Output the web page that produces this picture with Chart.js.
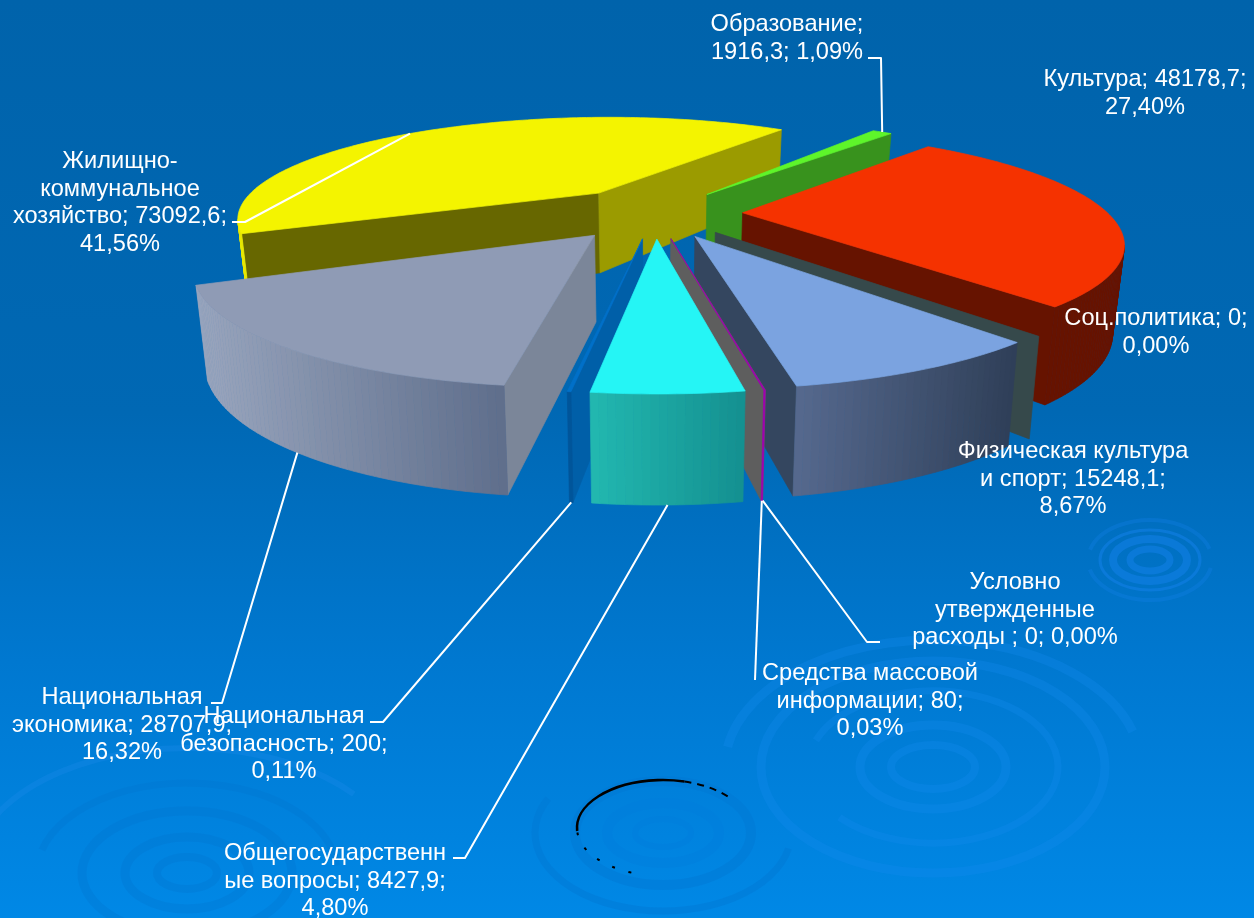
<!DOCTYPE html>
<html>
<head>
<meta charset="utf-8">
<title>Расходы бюджета</title>
<script src="https://cdn.jsdelivr.net/npm/chart.js@4"></script>
<style>
    html, body { margin: 0; padding: 0; }
    #stage {
        position: relative; width: 1254px; height: 918px; overflow: hidden;
        background: linear-gradient(to bottom, #0063ab 0%, #0068b4 45%, #0078d0 72%, #0088e6 100%);
    }
    #pie { position: absolute; left: 0; top: 0; }
    .lbl {
        position: absolute; transform: translateX(-50%); white-space: nowrap; text-align: center;
        color: #fff; font: 23.6px/27.4px "Liberation Sans", Arial, sans-serif;
    }
</style>
</head>
<body>
<div id="stage"><canvas id="pie" width="1254" height="918"></canvas></div>
<script>
(function () {
    'use strict';

    // Data, clockwise from the top of the pie
    var categories = ['Образование', 'Культура', 'Соц.политика', 'Физическая культура и спорт',
        'Условно утвержденные расходы', 'Средства массовой информации', 'Общегосударственные вопросы',
        'Национальная безопасность', 'Национальная экономика', 'Жилищно-коммунальное хозяйство'];
    var values = [1916.3, 48178.7, 0, 15248.1, 0, 80, 8427.9, 200, 28707.9, 73092.6];
    var labelLines = [
        ['Образование;', '1916,3; 1,09%'],
        ['Культура; 48178,7;', '27,40%'],
        ['Соц.политика; 0;', '0,00%'],
        ['Физическая культура', 'и спорт; 15248,1;', '8,67%'],
        ['Условно', 'утвержденные', 'расходы ; 0; 0,00%'],
        ['Средства массовой', 'информации; 80;', '0,03%'],
        ['Общегосударственн', 'ые вопросы; 8427,9;', '4,80%'],
        ['Национальная', 'безопасность; 200;', '0,11%'],
        ['Национальная', 'экономика; 28707,9;', '16,32%'],
        ['Жилищно-', 'коммунальное', 'хозяйство; 73092,6;', '41,56%']
    ];

    // Slice styles
    var topColors = ['#5ef52a', '#f53200', '#36494b', '#7ba3e0', '#5e5e5e', '#a000b0', '#25f5f5', '#0070c8', '#8f9bb5', '#f4f400'];
    var cutColors = ['#38921d', '#661300', '#36494b', '#34465f', '#5e5e5e', '#5e5e5e', '#149090', '#005fa8', '#7b8699', '#676700'];
    var cutColorsAlt = ['#38921d', '#661300', '#36494b', '#34465f', '#5e5e5e', '#5e5e5e', '#149090', '#005fa8', '#7b8699', '#9b9b00'];
    var rimLeft = ['#38921d', '#661300', '#36494b', '#56698e', '#5e5e5e', '#a000b0', '#22b8b0', '#00559a', '#99a5bd', '#e8e800'];
    var rimRight = ['#38921d', '#661300', '#36494b', '#2f3f58', '#5e5e5e', '#a000b0', '#149090', '#00559a', '#5f6e8b', '#e8e800'];
    var explode = [290, 290, 290, 290, 290, 290, 290, 290, 314, 314];

    // Label centre x and first line centre y, leader elbow and tail
    var labelPos = [[787, 24], [1145, 79], [1156, 318], [1073, 451], [1015, 582], [870, 673], [335, 853], [284, 716], [122, 697], [120, 161]];
    var leaders = [
        { i: 0, z: 0, at: 0.5, via: [[881, 58], [868, 58]] },
        { i: 4, z: 1, at: 0.5, via: [[867, 642], [880, 642]] },
        { i: 5, z: 1, at: 0.5, via: [[755, 680]] },
        { i: 6, z: 1, at: 0.5, via: [[465, 858], [453, 858]] },
        { i: 7, z: 1, at: 0.5, via: [[383, 722], [370, 722]] },
        { i: 8, z: 1, at: 0.5, via: [[222, 703], [211, 703]] },
        { i: 9, z: 0, at: 0.48, via: [[245, 222], [232, 222]] }
    ];

    // Projection of the pie plane onto the screen
    var CX = 655, CY = 213, A = 365, B = 102.5, K = 0.24, K2 = 0.204, H = 83, SHRINK = 0.025;
    var VIEW_Y = -1 / K;

    function project(X, Y, Z) {
        var w = 1 + K * Y;
        return {
            x: CX + A * X / w * (1 - SHRINK * Z),
            y: CY - B * Y / w + Z * H / (1 + K2 * Y)
        };
    }

    function hex(c) {
        return [parseInt(c.substr(1, 2), 16), parseInt(c.substr(3, 2), 16), parseInt(c.substr(5, 2), 16)];
    }
    function mix(a, b, t) {
        var p = hex(a), q = hex(b), o = [];
        for (var i = 0; i < 3; i++) o.push(Math.round(p[i] + (q[i] - p[i]) * t));
        return 'rgb(' + o.join(',') + ')';
    }

    function fillPoly(ctx, pts, color) {
        ctx.beginPath();
        pts.forEach(function (p, i) { if (i) ctx.lineTo(p.x, p.y); else ctx.moveTo(p.x, p.y); });
        ctx.closePath();
        ctx.fillStyle = color;
        ctx.strokeStyle = color;
        ctx.lineWidth = 0.7;
        ctx.fill();
        ctx.stroke();
    }

    // Arc geometry from the chart's own element, in pie units
    function wedge(arc) {
        var r = arc.outerRadius;
        var mid = (arc.startAngle + arc.endAngle) / 2;
        var e = (arc.options.offset || 0) / 4 / r;
        return {
            a0: arc.startAngle, a1: arc.endAngle,
            ox: Math.cos(mid) * e, oy: -Math.sin(mid) * e, mid: mid
        };
    }
    function rimPoint(w, angle, Z) {
        return project(w.ox + Math.cos(angle), w.oy - Math.sin(angle), Z);
    }

    function drawSlice(ctx, arc, i) {
        var w = wedge(arc);
        var tip = project(w.ox, w.oy, 0), tipLow = project(w.ox, w.oy, 1);
        var span = w.a1 - w.a0;
        var n = Math.max(1, Math.ceil(span / (Math.PI / 180)));
        var vx = -w.ox, vy = VIEW_Y - w.oy;

        // cut walls, start and end of the slice
        var nS = [Math.sin(w.a0), Math.cos(w.a0)];          // outward normal, start side
        var nE = [-Math.sin(w.a1), -Math.cos(w.a1)];        // outward normal, end side
        if (nS[0] * vx + nS[1] * vy > 0) {
            fillPoly(ctx, [tip, rimPoint(w, w.a0, 0), rimPoint(w, w.a0, 1), tipLow], cutColors[i]);
        }
        if (nE[0] * vx + nE[1] * vy > 0) {
            fillPoly(ctx, [tip, rimPoint(w, w.a1, 0), rimPoint(w, w.a1, 1), tipLow], cutColorsAlt[i]);
        }

        // rim, shaded left to right
        if (span > 0) {
            var minX = Infinity, maxX = -Infinity, k, p;
            for (k = 0; k <= n; k++) {
                p = rimPoint(w, w.a0 + span * k / n, 0);
                minX = Math.min(minX, p.x);
                maxX = Math.max(maxX, p.x);
            }
            for (k = 0; k < n; k++) {
                var b0 = w.a0 + span * k / n, b1 = w.a0 + span * (k + 1) / n, bm = (b0 + b1) / 2;
                var px = w.ox + Math.cos(bm), py = w.oy - Math.sin(bm);
                if (Math.cos(bm) * (0 - px) + (-Math.sin(bm)) * (VIEW_Y - py) <= 0) continue;
                var q0 = rimPoint(w, b0, 0), q1 = rimPoint(w, b1, 0);
                var t = maxX > minX ? ((q0.x + q1.x) / 2 - minX) / (maxX - minX) : 0;
                fillPoly(ctx, [q0, q1, rimPoint(w, b1, 1), rimPoint(w, b0, 1)], mix(rimLeft[i], rimRight[i], t));
            }

            // top face
            var top = [tip];
            for (k = 0; k <= n; k++) top.push(rimPoint(w, w.a0 + span * k / n, 0));
            fillPoly(ctx, top, arc.options.backgroundColor);
        }
    }

    function ripple(ctx, cx, cy, rings, color) {
        ctx.strokeStyle = color;
        rings.forEach(function (r) {
            ctx.lineWidth = r[2];
            ctx.beginPath();
            ctx.ellipse(cx, cy, r[0], r[1], 0, r[3] || 0, r[4] || Math.PI * 2);
            ctx.stroke();
        });
    }

    // Water rings of the slide background
    var backdrop = {
        id: 'backdrop',
        beforeDatasetsDraw: function (chart) {
            var ctx = chart.ctx;
            ctx.save();
            ripple(ctx, 1150, 560, [[20, 11, 7], [37, 21, 8], [50, 30, 3]], 'rgba(20,130,235,.5)');
            ripple(ctx, 1150, 560, [[62, 40, 4, 3.4, 6.0], [62, 40, 4, 0.2, 2.9]], 'rgba(20,130,235,.3)');
            ripple(ctx, 933, 767, [[42, 22, 8], [73, 42, 9], [125, 76, 7, 3.5, 8.7], [172, 106, 9], [208, 127, 9, 3.3, 6.0]], 'rgba(20,140,240,.3)');
            ripple(ctx, 663, 833, [[28, 14, 6], [56, 30, 10]], 'rgba(0,125,220,.4)');
            ripple(ctx, 663, 833, [[88, 52, 10], [128, 78, 7, 0.2, 3.6]], 'rgba(0,120,210,.45)');
            ripple(ctx, 187, 873, [[30, 16, 8], [62, 36, 9], [105, 62, 9], [150, 90, 7, 3.4, 6.2]], 'rgba(0,115,205,.3)');
            ripple(ctx, 187, 873, [[215, 125, 6, 3.3, 5.6]], 'rgba(30,140,235,.3)');

            // black flaw on the ring in the middle
            ctx.strokeStyle = '#000';
            ctx.lineWidth = 2.6;
            ctx.beginPath();
            ctx.ellipse(663, 828, 86, 48, 0, Math.PI * 0.98, Math.PI * 1.58);
            ctx.stroke();
            ctx.lineWidth = 2;
            ctx.setLineDash([7, 6]);
            ctx.beginPath();
            ctx.ellipse(663, 828, 86, 48, 0, Math.PI * 1.58, Math.PI * 1.78);
            ctx.stroke();
            ctx.setLineDash([3, 14]);
            ctx.beginPath();
            ctx.ellipse(663, 828, 86, 48, 0, Math.PI * 0.62, Math.PI * 0.97);
            ctx.stroke();
            ctx.restore();
        }
    };

    // Draws the slices in perspective instead of the flat arcs
    var pie3d = {
        id: 'pie3d',
        beforeDatasetsDraw: function (chart) {
            var ctx = chart.ctx;
            var arcs = chart.getDatasetMeta(0).data;
            var order = arcs.map(function (a, i) { return i; });
            order.sort(function (p, q) {
                return wedge(arcs[p]).oy - wedge(arcs[q]).oy < 0 ? 1 : -1;
            });
            ctx.save();
            ctx.lineJoin = 'round';
            order.forEach(function (i) { drawSlice(ctx, arcs[i], i); });

            // leader lines
            ctx.strokeStyle = '#fff';
            ctx.lineWidth = 2;
            leaders.forEach(function (l) {
                var a = arcs[l.i], w = wedge(a);
                var s = rimPoint(w, a.startAngle + (a.endAngle - a.startAngle) * l.at, l.z);
                ctx.beginPath();
                ctx.moveTo(s.x, s.y);
                l.via.forEach(function (p) { ctx.lineTo(p[0], p[1]); });
                ctx.stroke();
            });
            ctx.restore();
            return false;
        }
    };

    new Chart(document.getElementById('pie'), {
        type: 'pie',
        data: {
            labels: categories,
            datasets: [{
                data: values,
                backgroundColor: topColors,
                borderWidth: 0,
                offset: explode,
                hoverOffset: 0
            }]
        },
        options: {
            responsive: false,
            animation: false,
            rotation: 36.3,
            events: [],
            plugins: { legend: { display: false }, tooltip: { enabled: false } }
        },
        plugins: [backdrop, pie3d]
    });

    // Data labels
    var stage = document.getElementById('stage');
    labelLines.forEach(function (lines, i) {
        var d = document.createElement('div');
        d.className = 'lbl';
        d.style.left = labelPos[i][0] + 'px';
        d.style.top = (labelPos[i][1] - 13.7) + 'px';
        d.innerHTML = lines.join('<br>');
        stage.appendChild(d);
    });
}());
</script>
</body>
</html>
